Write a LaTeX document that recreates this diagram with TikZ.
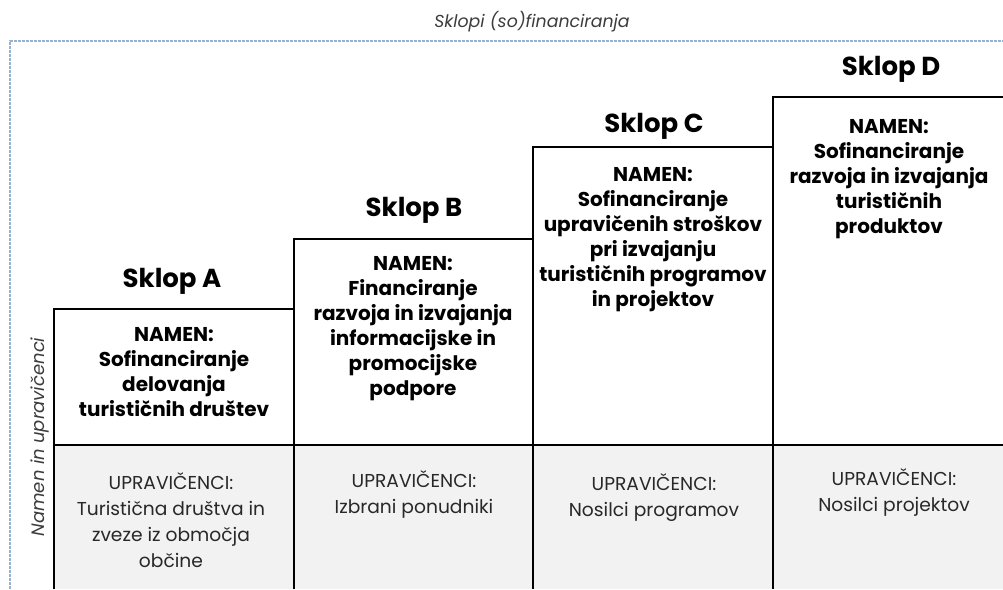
\documentclass[tikz,border=0pt]{standalone}
\usepackage{fontspec}
\setmainfont{Poppins}
\definecolor{lotgray}{RGB}{242,242,242}
\definecolor{frameblue}{RGB}{150,178,207}
\definecolor{titlegray}{RGB}{60,60,60}
\definecolor{uprgray}{RGB}{40,40,40}

\begin{document}
\begin{tikzpicture}[x=0.75pt,y=-0.75pt,
  heading/.style={font=\bfseries\fontsize{19.5}{22}\selectfont,anchor=base,inner sep=0pt},
  namen/.style={font=\bfseries\fontsize{15}{18.75}\selectfont,align=center,anchor=north,inner sep=0pt},
  upr/.style={font=\fontsize{14}{19.5}\selectfont,align=center,anchor=north,inner sep=0pt,text=uprgray}]
  \useasboundingbox (0,0) rectangle (1003,589);
  % outer frame
  \draw[frameblue,line width=1pt,dash pattern=on 2pt off 1pt] (10,589) -- (10,41) -- (1003,41);
  \node[font=\itshape\fontsize{13}{15}\selectfont,text=titlegray] (title) at (532,22) {Sklopi (so)financiranja};
  \node[font=\itshape\fontsize{13.5}{16}\selectfont,text=titlegray,rotate=90] (axis) at (40,437) {Namen in upravičenci};
  % lots
  \fill[lotgray] (54,445) rectangle (1003,589);
  \begin{scope}[line width=1.5pt]
   \draw (54,589) -- (54,309) -- (294,309);
   \draw (294,589) -- (294,239) -- (533,239);
   \draw (533,589) -- (533,147) -- (773,147);
   \draw (773,589) -- (773,97) -- (1004,97);
   \draw (54,445) -- (1004,445);
  \end{scope}
  % headings
  \node[heading] (headA) at (172,287) {Sklop A};
  \node[heading] (headB) at (414,216) {Sklop B};
  \node[heading] (headC) at (654,132) {Sklop C};
  \node[heading] (headD) at (891,75) {Sklop D};
  % purpose
  \node[namen] (namenA) at (174,327) {NAMEN:\\Sofinanciranje\\delovanja\\turističnih društev};
  \node[namen] (namenB) at (413,256) {NAMEN:\\Financiranje\\razvoja in izvajanja\\informacijske in\\promocijske\\podpore};
  \node[namen] (namenC) at (653,167) {NAMEN:\\Sofinanciranje\\upravičenih stroškov\\pri izvajanju\\turističnih programov\\in projektov};
  \node[namen] (namenD) at (889,119) {NAMEN:\\Sofinanciranje\\razvoja in izvajanja\\turističnih\\produktov};
  % beneficiaries
  \node[upr] (uprA) at (171,472) {UPRAVIČENCI:\\Turistična društva in\\zveze iz območja\\občine};
  \node[upr] (uprB) at (414,470) {UPRAVIČENCI:\\Izbrani ponudniki};
  \node[upr] (uprC) at (654,473) {UPRAVIČENCI:\\Nosilci programov};
  \node[upr] (uprD) at (894,468) {UPRAVIČENCI:\\Nosilci projektov};
\end{tikzpicture}
\end{document}
